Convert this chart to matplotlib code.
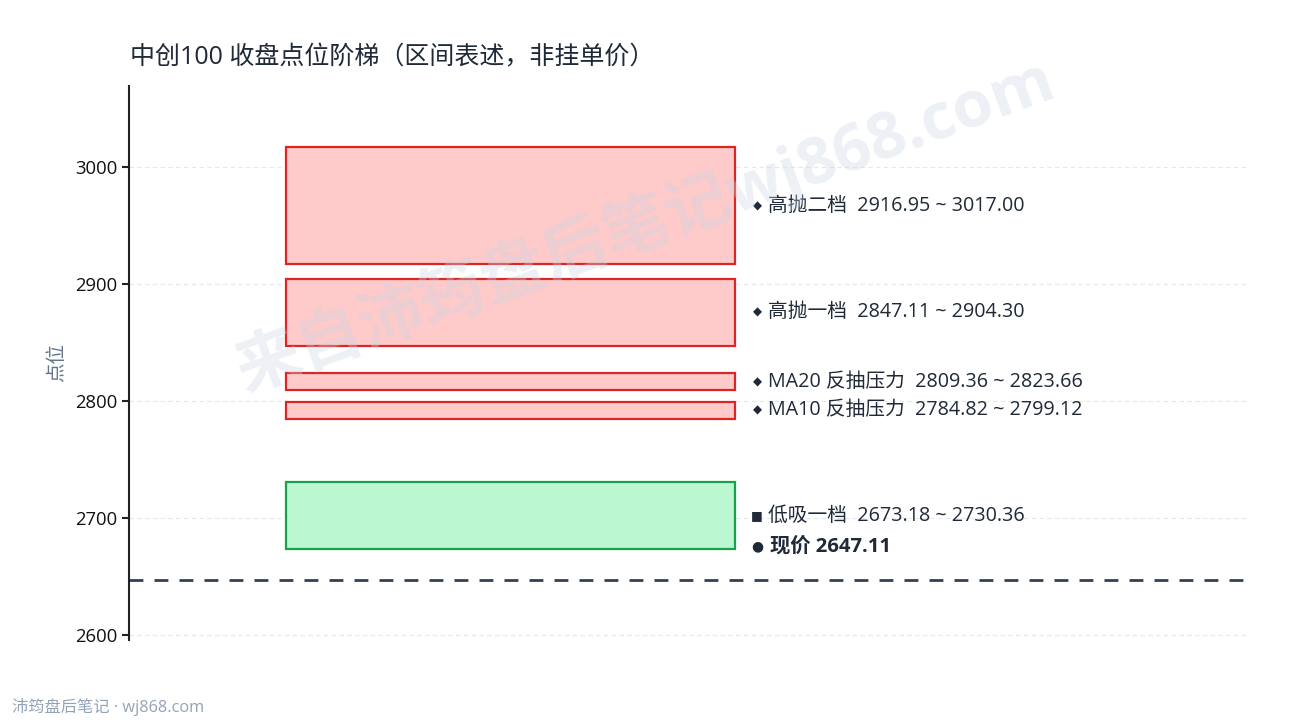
import matplotlib
matplotlib.use("Agg")
import matplotlib.pyplot as plt
from matplotlib.patches import Rectangle

FONTS = ['Open Sans', 'Noto Sans CJK SC', 'DejaVu Sans']
plt.rcParams['font.family'] = FONTS

# ---- data ----
zone_names = ["高抛二档", "高抛一档", "MA20 反抽压力", "MA10 反抽压力", "低吸一档"]
zone_low = [2916.95, 2847.11, 2809.36, 2784.82, 2673.18]
zone_high = [3017.00, 2904.30, 2823.66, 2799.12, 2730.36]
zone_kind = ["sell", "sell", "sell", "sell", "buy"]
current_price = 2647.11
yticks = [2600, 2700, 2800, 2900, 3000]

title = "中创100 收盘点位阶梯（区间表述，非挂单价）"
ylabel = "点位"
footer = "沛筠盘后笔记 · wj868.com"
watermark = "来自沛筠盘后笔记wj868.com"

fig = plt.figure(figsize=(12.9, 7.2), dpi=100)
ax = fig.add_axes([129/1290, 1-640/720, (1250-129)/1290, (640-86)/720])

ax.set_xlim(0, 1)
ax.set_ylim(2595.7, 3069.2)

styles = {"sell": ("#fecaca", "#dc2626"), "buy": ("#bbf7d0", "#16a34a")}
marks = {"sell": ("◆", 8.5), "buy": ("■", 9)}
x0, x1 = 0.14, 0.541
xm = (757 - 129) / 1121
xt = (768 - 129) / 1121
for name, lo, hi, kind in zip(zone_names, zone_low, zone_high, zone_kind):
    fc, ec = styles[kind]
    ax.add_patch(Rectangle((x0, lo), x1 - x0, hi - lo, facecolor=fc,
                           edgecolor=ec, linewidth=1.6, zorder=3))
    mid = (lo + hi) / 2
    m, ms = marks[kind]
    ax.text(xm, mid, m, fontsize=ms, color="#1f2937", va="center", ha="center",
            family="DejaVu Sans", zorder=4)
    ax.text(xt, mid, f"{name}  {lo:.2f} ~ {hi:.2f}",
            fontsize=14.2, color="#1f2937", va="center", ha="left", zorder=4)

ax.axhline(current_price, color="#334155", linewidth=2, linestyle=(0, (5, 4)), zorder=2)
ax.annotate("●", xy=(xm, current_price), xytext=(0, 24), textcoords="offset points",
            fontsize=10, color="#1f2937", va="center", ha="center", family="DejaVu Sans")
ax.annotate(f"现价 {current_price:.2f}", xy=(xt, current_price),
            xytext=(1.5, 24), textcoords="offset points",
            fontsize=14.6, fontweight="bold", color="#1f2937", va="center", ha="left")

ax.set_yticks(yticks)
ax.set_xticks([])
ax.grid(axis="y", color="#e5e7eb", linestyle=(0, (4, 3)), linewidth=0.8)
ax.set_axisbelow(True)
for s in ["top", "right", "bottom"]:
    ax.spines[s].set_visible(False)
ax.spines["left"].set_linewidth(1.5)
ax.spines["left"].set_color("#222222")
ax.tick_params(axis="y", labelsize=13.3, length=5, width=1.5, color="#222222",
               labelcolor="#111111")
ax.set_ylabel(ylabel, fontsize=14, color="#64748b", labelpad=6)

fig.text(130/1290, 1-58/720, title, fontsize=18, color="#1f2937", va="center", ha="left")
fig.text(12/1290, 1-707/720, footer, fontsize=11.7, color="#94a3b8", va="center", ha="left")
fig.text(645/1290, 1-225/720, watermark, fontsize=47, fontweight="bold",
         color="#cbd5e1", alpha=0.35, rotation=20, ha="center", va="center", zorder=10)

fig.savefig("out.png", dpi=100)
